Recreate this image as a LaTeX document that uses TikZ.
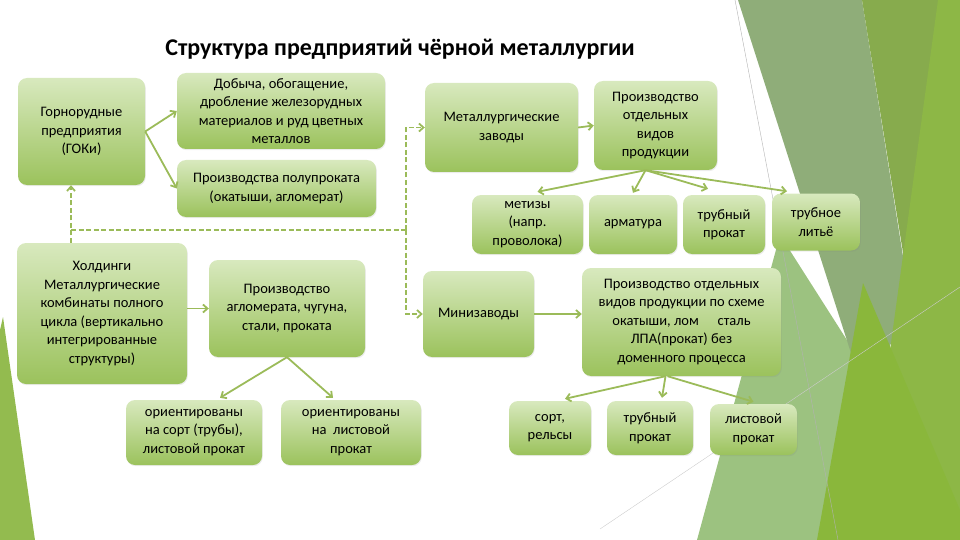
\documentclass[tikz,border=0pt]{standalone}
\usepackage{fontspec}
\setmainfont{Carlito}
\usetikzlibrary{arrows.meta,shadows}
\definecolor{boxtop}{HTML}{D8E9BE}
\definecolor{boxbot}{HTML}{9BC25C}
\definecolor{arrgreen}{HTML}{9BBB59}
\definecolor{bglight}{HTML}{9CC280}
\definecolor{bggray}{HTML}{8FAD79}
\definecolor{bgolive}{HTML}{87AB4D}
\definecolor{bgbright}{HTML}{8DB746}
\definecolor{bgleaf}{HTML}{8AB73B}
\begin{document}
\begin{tikzpicture}[x=1pt, y=-1pt, >={Straight Barb[length=4.5pt,width=8pt]},
	blk/.style={rectangle, rounded corners=9pt, top color=boxtop, bottom color=boxbot, align=center, inner sep=2pt, font=\fontsize{14.5}{18.5}\selectfont, drop shadow={opacity=0.15, shadow xshift=0.8pt, shadow yshift=-1.2pt}},
	arr/.style={->, line width=1.8pt, color=arrgreen},
	dsh/.style={arr, dash pattern=on 5pt off 2.5pt}]
	\useasboundingbox (0,0) rectangle (960,540);
	
	% 1. фон слайда (грани справа и слева)
	\fill[bglight] (780,235) -- (866,370) -- (905,540) -- (697,540) -- cycle;
	\fill[bggray] (738,0) -- (862,0) -- (910,300) -- (866,400) -- cycle;
	\fill[bgolive] (862,0) -- (940,0) -- (905,265) -- cycle;
	\fill[bgbright] (938,0) -- (960,0) -- (960,540) -- (864,540) -- cycle;
	\fill[bgleaf] (863,283) -- (960,510) -- (960,540) -- (817,540) -- cycle;
	\fill[bgbright!95!white] (3,317) -- (35,540) -- (0,540) -- (0,330) -- cycle;
	\draw[gray!60, line width=0.4pt] (735,0) -- (838,540);
	\draw[gray!40, line width=0.4pt] (600,529) -- (960,287);
	
	% 2. заголовок
	\node[font=\fontsize{24}{28}\selectfont\bfseries] (title) at (400,49) {Структура предприятий чёрной металлургии};
	
	% 3. левая часть схемы
	\node[blk, minimum width=127pt, minimum height=107pt] (gok) at (81.5,131.5) {Горнорудные\\предприятия\\(ГОКи)};
	\node[blk, minimum width=208pt, minimum height=76pt] (dob) at (281,111) {Добыча, обогащение,\\дробление железорудных\\материалов и руд цветных\\металлов};
	\node[blk, minimum width=199pt, minimum height=57pt] (polu) at (276.5,188.5) {Производства полупроката\\(окатыши, агломерат)};
	\node[blk, minimum width=170pt, minimum height=141pt] (hold) at (102,313.5) {Холдинги\\Металлургические\\комбинаты полного\\цикла (вертикально\\интегрированные\\структуры)};
	\node[blk, minimum width=156pt, minimum height=97pt] (aglo) at (287,308.5) {Производство\\агломерата, чугуна,\\стали, проката};
	\node[blk, minimum width=136pt, minimum height=65pt] (sort1) at (194,432.5) {ориентированы\\на сорт (трубы),\\листовой прокат};
	\node[blk, minimum width=140pt, minimum height=65pt] (list1) at (351,432.5) {ориентированы\\на~ листовой\\прокат};
	
	% 4. правая часть схемы
	\node[blk, minimum width=153pt, minimum height=89pt] (mz) at (501.5,127.5) {Металлургические\\заводы};
	\node[blk, minimum width=123pt, minimum height=89pt] (pov) at (655.5,125.5) {Производство\\отдельных\\видов\\продукции};
	\node[blk, minimum width=111pt, minimum height=59pt] (met) at (527.5,224.5) {метизы\\(напр.\\проволока)};
	\node[blk, minimum width=88pt, minimum height=59pt] (arm) at (633,224.5) {арматура};
	\node[blk, minimum width=82pt, minimum height=59pt] (trp) at (724,224.5) {трубный\\прокат};
	\node[blk, minimum width=88pt, minimum height=57pt] (trl) at (816,222) {трубное\\литьё};
	\node[blk, minimum width=111pt, minimum height=86pt] (mini) at (478.5,314) {Минизаводы};
	\node[blk, minimum width=199pt, minimum height=108pt] (sch) at (681.5,322) {Производство отдельных\\видов продукции по схеме\\окатыши, лом\hspace{1.3em}сталь\\ЛПА(прокат) без\\доменного процесса};
	\node[blk, minimum width=82pt, minimum height=54pt] (srl) at (550,428) {сорт,\\рельсы};
	\node[blk, minimum width=86pt, minimum height=54pt] (trp2) at (650,428) {трубный\\прокат};
	\node[blk, minimum width=87pt, minimum height=51pt] (lst2) at (753.5,429.5) {листовой\\прокат};
	
	% 5. связи
	\draw[arr] (gok.east) -- (dob.west);
	\draw[arr] (gok.east) -- (polu.west);
	\draw[arr] (hold.east |- aglo.west) -- (aglo.west);
	\draw[arr] (aglo.south) -- ([xshift=26pt, yshift=2pt]sort1.north);
	\draw[arr] (aglo.south) -- ([xshift=-18pt, yshift=2pt]list1.north);
	\draw[arr] (mz.east) -- (pov.west);
	\draw[arr] ([xshift=-10pt]pov.south) -- ([xshift=10pt, yshift=3pt]met.north);
	\draw[arr] ([xshift=-10pt]pov.south) -- ([yshift=2pt]arm.north);
	\draw[arr] ([xshift=-10pt]pov.south) -- ([xshift=-16pt, yshift=6pt]trp.north);
	\draw[arr] ([xshift=-10pt]pov.south) -- ([xshift=-29pt, yshift=2pt]trl.north);
	\draw[arr] (mini.east) -- (mini.east -| sch.west);
	\draw[arr] ([xshift=-16pt]sch.south) -- ([xshift=15pt, yshift=2pt]srl.north);
	\draw[arr] ([xshift=-16pt]sch.south) -- ([xshift=12pt, yshift=3pt]trp2.north);
	\draw[arr] ([xshift=-14pt]sch.south) -- ([yshift=2pt]lst2.north);
	
	% 6. пунктирные связи
	\coordinate (jl) at (71,230);
	\coordinate (jr) at (406,230);
	\draw[dsh] (jl |- hold.north) -- (jl |- gok.south);
	\draw[dsh, -] (jl) -- (jr);
	\draw[dsh] (jr) |- (mz.west);
	\draw[dsh] (jr) |- (mini.west);
\end{tikzpicture}
\end{document}
